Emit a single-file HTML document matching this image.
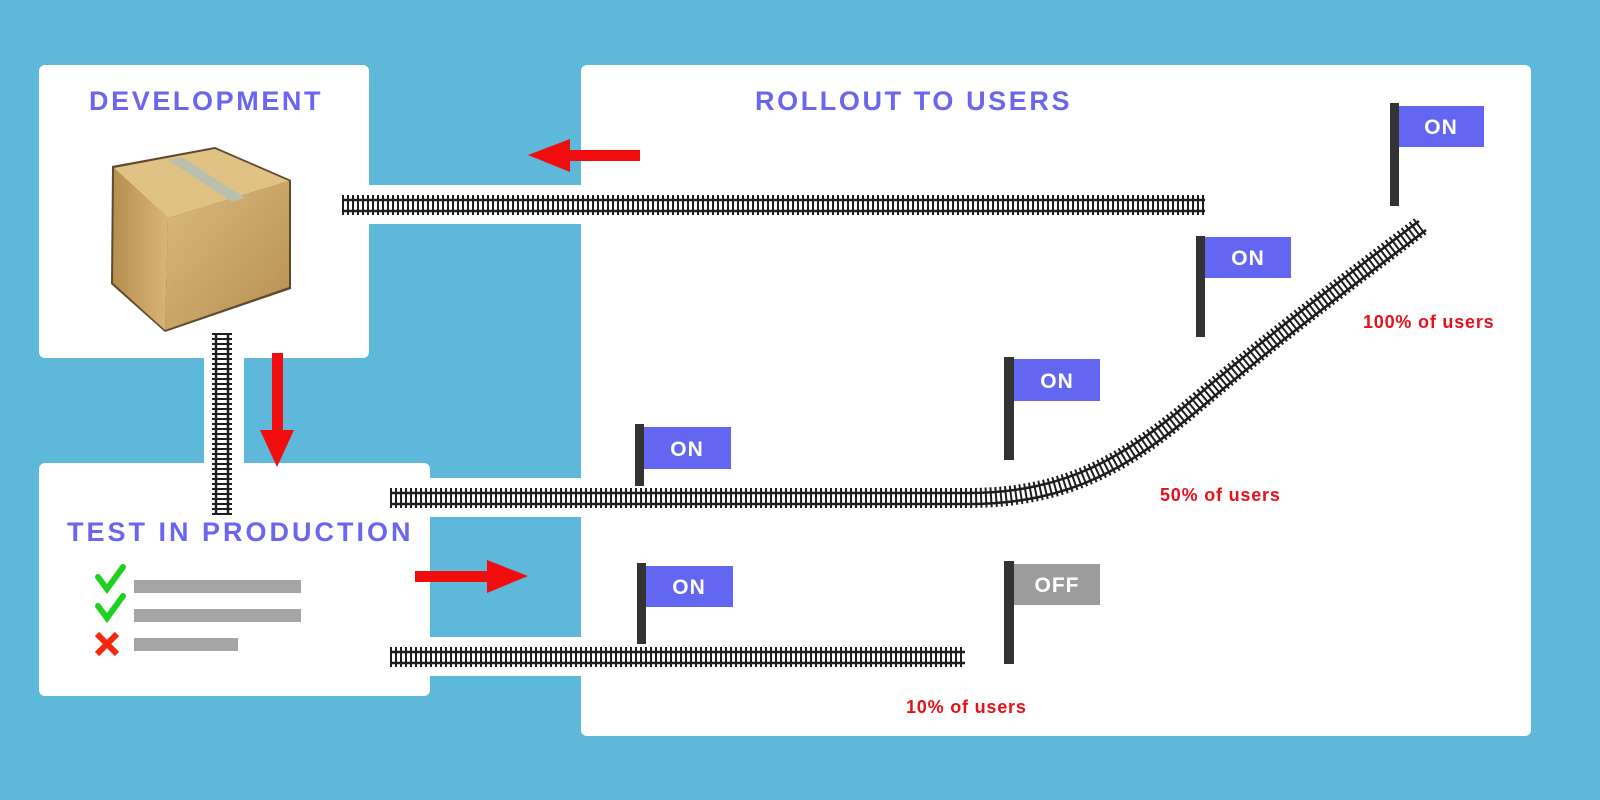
<!DOCTYPE html>
<html><head><meta charset="utf-8"><style>
body{margin:0;width:1600px;height:800px;background:#5db8d9;position:relative;overflow:hidden;font-family:"Liberation Sans",sans-serif}
.p{position:absolute;background:#fff;border-radius:6px}
.t{position:absolute;color:#6a66ee;font-weight:bold;font-size:27px;letter-spacing:2.6px}
.r{position:absolute;color:#e8101a;font-weight:bold;font-size:18px;letter-spacing:0.8px}
</style></head><body>
<div class="p" style="left:39px;top:65px;width:330px;height:293px"></div>
<div class="p" style="left:39px;top:463px;width:391px;height:233px"></div>
<div class="p" style="left:581px;top:65px;width:950px;height:671px"></div>
<div style="position:absolute;left:340px;top:185px;width:241px;height:39px;background:#fff"></div>
<div style="position:absolute;left:390px;top:478px;width:191px;height:39px;background:#fff"></div>
<div style="position:absolute;left:390px;top:637px;width:191px;height:39px;background:#fff"></div>
<div style="position:absolute;left:204px;top:350px;width:40px;height:120px;background:#fff"></div>
<div class="t" style="left:89px;top:86px">DEVELOPMENT</div>
<div class="t" style="left:755px;top:86px">ROLLOUT TO USERS</div>
<div class="t" style="left:67px;top:517px;letter-spacing:3px">TEST IN PRODUCTION</div>
<div class="r" style="left:1363px;top:312px">100% of users</div>
<div class="r" style="left:1160px;top:485px">50% of users</div>
<div class="r" style="left:906px;top:697px">10% of users</div>
<svg width="1600" height="800" style="position:absolute;left:0;top:0">
<defs><linearGradient id="g1" x1="0" x2="1"><stop offset="0" stop-color="#b58f4e"/><stop offset="1" stop-color="#d9b577"/></linearGradient>
<linearGradient id="g2" x1="0" y1="0" x2="1" y2="1"><stop offset="0" stop-color="#dcbb7e"/><stop offset="1" stop-color="#b58f50"/></linearGradient></defs>
<!-- box -->
<polygon points="112,166 215,147 291,180 291,289 165,332 111,284" fill="#5e4b2e"/>
<polygon points="114,168 215,149 289,181 168,218" fill="#e0c284"/>
<polygon points="114,168 168,218 165,330 113,283" fill="url(#g1)"/>
<polygon points="168,218 289,181 289,287 165,330" fill="url(#g2)"/>
<polygon points="168,160 182,157 245,198 232,202" fill="#b9c0ad"/>
<!-- tracks -->
<g fill="none" stroke="#1e1e1e">
<path d="M342 205H1205 M390 498H968 C1070 498 1130 460 1200 400 C1280 332 1350 280 1422 225 M390 657H965 M222 333V515" stroke-width="20" stroke-dasharray="2 3"/>
<path d="M342 200H1205 M342 211H1205 M390 493H968 C1068 493 1128 455 1197 396 C1277 328 1347 276 1419 221 M390 504H968 C1072 504 1132 466 1204 405 C1284 337 1354 285 1426 230 M390 652H965 M390 663H965 M216 333V515 M228 333V515" stroke-width="2.5"/>
</g>
<!-- arrows -->
<g fill="#f10d0d">
<rect x="565" y="150" width="75" height="11"/><polygon points="528,155 570,139 570,172"/>
<rect x="272" y="353" width="11" height="80"/><polygon points="277,467 260,430 294,430"/>
<rect x="415" y="571" width="75" height="11"/><polygon points="528,576 487,560 487,593"/>
</g>
<!-- checklist -->
<g fill="#a4a6a4"><rect x="134" y="580" width="167" height="13"/><rect x="134" y="609" width="167" height="13"/><rect x="134" y="638" width="104" height="13"/></g>
<g stroke="#1fd11f" stroke-width="6" fill="none" stroke-linecap="round"><path d="M98 577l9 12 16-22M98 606l9 12 16-22"/></g>
<path d="M97 634l20 20M117 634l-20 20" stroke="#f5280f" stroke-width="6"/>
<!-- flags -->
<g fill="#333"><rect x="1390" y="103" width="9" height="103"/><rect x="1196" y="236" width="9" height="101"/><rect x="1004" y="357" width="10" height="103"/><rect x="635" y="424" width="9" height="62"/><rect x="637" y="563" width="9" height="81"/><rect x="1004" y="561" width="10" height="103"/></g>
<g fill="#6366f1"><rect x="1399" y="106" width="85" height="41"/><rect x="1205" y="237" width="86" height="41"/><rect x="1014" y="359" width="86" height="42"/><rect x="644" y="427" width="87" height="42"/><rect x="646" y="566" width="87" height="41"/></g>
<rect x="1014" y="564" width="86" height="41" fill="#9c9c9c"/>
<g fill="#fff" font-family="Liberation Sans" font-weight="bold" font-size="21" text-anchor="middle" letter-spacing="1">
<text x="1441" y="134">ON</text><text x="1248" y="265">ON</text><text x="1057" y="388">ON</text><text x="687" y="456">ON</text><text x="689" y="594">ON</text><text x="1057" y="592">OFF</text></g>
</svg>
</body></html>
